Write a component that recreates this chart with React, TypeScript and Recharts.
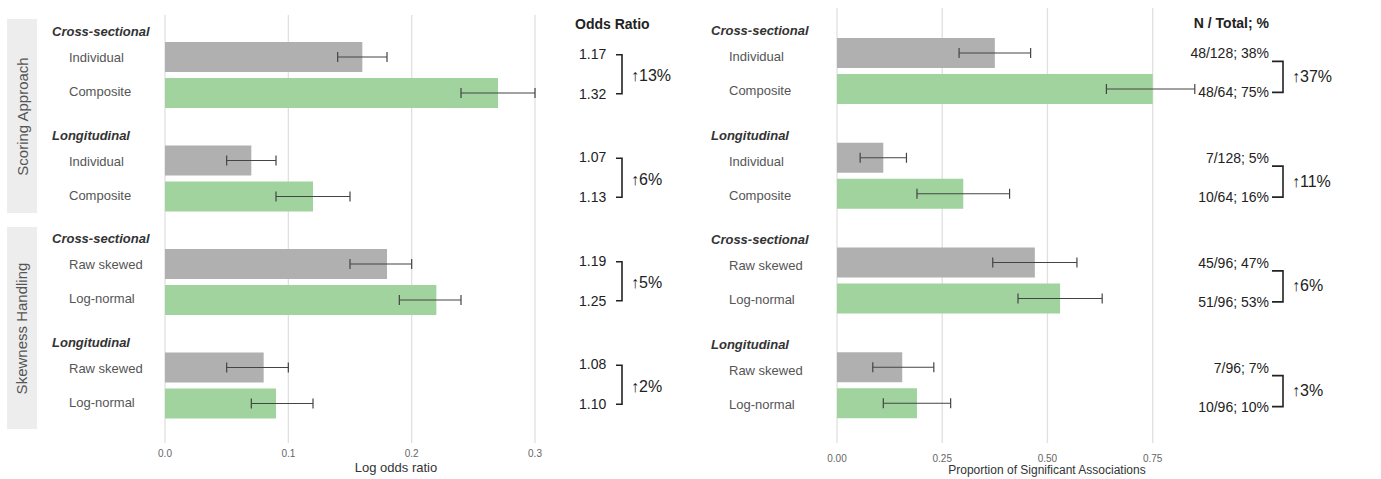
import { BarChart, Bar, XAxis, YAxis, CartesianGrid, ErrorBar } from 'recharts'

const SECTIONS = ['Cross-sectional', 'Longitudinal', 'Cross-sectional', 'Longitudinal']
const BASE_LABELS = ['Individual', 'Individual', 'Raw skewed', 'Raw skewed']
const ALT_LABELS = ['Composite', 'Composite', 'Log-normal', 'Log-normal']
const STRIPS = ['Scoring Approach', 'Skewness Handling']

// left panel: log odds ratio, 95% CI
const LOR_BASE = [0.16, 0.07, 0.18, 0.08]
const LOR_BASE_LO = [0.14, 0.05, 0.15, 0.05]
const LOR_BASE_HI = [0.18, 0.09, 0.2, 0.1]
const LOR_ALT = [0.27, 0.12, 0.22, 0.09]
const LOR_ALT_LO = [0.24, 0.09, 0.19, 0.07]
const LOR_ALT_HI = [0.3, 0.15, 0.24, 0.12]
const LOR_TICKS = [0, 0.1, 0.2, 0.3]
const OR_BASE = ['1.17', '1.07', '1.19', '1.08']
const OR_ALT = ['1.32', '1.13', '1.25', '1.10']
const OR_GAIN = ['13%', '6%', '5%', '2%']

// right panel: proportion of significant associations
const PROP_BASE = [0.375, 0.11, 0.47, 0.155]
const PROP_BASE_LO = [0.29, 0.055, 0.37, 0.085]
const PROP_BASE_HI = [0.46, 0.165, 0.57, 0.23]
const PROP_ALT = [0.75, 0.3, 0.53, 0.19]
const PROP_ALT_LO = [0.64, 0.19, 0.43, 0.11]
const PROP_ALT_HI = [0.85, 0.41, 0.63, 0.27]
const PROP_TICKS = [0, 0.25, 0.5, 0.75]
const N_BASE = ['48/128; 38%', '7/128; 5%', '45/96; 47%', '7/96; 7%']
const N_ALT = ['48/64; 75%', '10/64; 16%', '51/96; 53%', '10/96; 10%']
const N_GAIN = ['37%', '11%', '6%', '3%']

const GREY = '#b0b0b0'
const GREEN = '#a1d39e'
const FONT = '"Liberation Sans", Arial, Helvetica, sans-serif'

function buildRows(base: number[], baseLo: number[], baseHi: number[], alt: number[], altLo: number[], altHi: number[]) {
  return base.map((v, i) => ({
    id: String(i),
    base: v,
    baseErr: [v - baseLo[i], baseHi[i] - v],
    alt: alt[i],
    altErr: [alt[i] - altLo[i], altHi[i] - alt[i]],
  }))
}

const lorRows = buildRows(LOR_BASE, LOR_BASE_LO, LOR_BASE_HI, LOR_ALT, LOR_ALT_LO, LOR_ALT_HI)
const propRows = buildRows(PROP_BASE, PROP_BASE_LO, PROP_BASE_HI, PROP_ALT, PROP_ALT_LO, PROP_ALT_HI)

type LabelCfg = { headDx: number; subDx: number; headDy: number; subDy: [number, number] }

function labelTick(cfg: LabelCfg) {
  return (props: any) => {
    const { x, y, payload } = props
    const i = Number(payload.value)
    return (
      <g>
        <text x={x + cfg.headDx} y={y + cfg.headDy} dominantBaseline="central" fontSize={13} fontWeight="bold" fontStyle="italic" fill="#333">
          {SECTIONS[i]}
        </text>
        <text x={x + cfg.subDx} y={y + cfg.subDy[0]} dominantBaseline="central" fontSize={13} fill="#555">
          {BASE_LABELS[i]}
        </text>
        <text x={x + cfg.subDx} y={y + cfg.subDy[1]} dominantBaseline="central" fontSize={13} fill="#555">
          {ALT_LABELS[i]}
        </text>
      </g>
    )
  }
}

type GainCfg = {
  top: string[]; bottom: string[]; gain: string[]
  textDx: number; anchor: 'start' | 'end'; topDy: number; botDy: number
  brX0: number; brX1: number; brTop: number; gainDx: number; gainDy: number
}

function gainTick(cfg: GainCfg) {
  return (props: any) => {
    const { x, y, payload } = props
    const i = Number(payload.value)
    return (
      <g fill="#222">
        <text x={x + cfg.textDx} y={y + cfg.topDy} fontSize={14} dominantBaseline="central" textAnchor={cfg.anchor}>{cfg.top[i]}</text>
        <text x={x + cfg.textDx} y={y + cfg.botDy} fontSize={14} dominantBaseline="central" textAnchor={cfg.anchor}>{cfg.bottom[i]}</text>
        <path
          d={`M${x + cfg.brX0},${y + cfg.brTop} H${x + cfg.brX1} V${y + cfg.botDy} H${x + cfg.brX0}`}
          fill="none" stroke="#222" strokeWidth={1.6}
        />
        <text x={x + cfg.gainDx} y={y + cfg.gainDy} fontSize={16} dominantBaseline="central">{'\u2191' + cfg.gain[i]}</text>
      </g>
    )
  }
}

function Strip({ label, top, height }: { label: string; top: number; height: number }) {
  return (
    <div style={{
      position: 'absolute', left: 7, top, width: 30, height, background: '#ededed',
      display: 'flex', alignItems: 'center', justifyContent: 'center',
    }}>
      <span style={{ transform: 'rotate(-90deg)', whiteSpace: 'nowrap', fontSize: 15, color: '#555' }}>{label}</span>
    </div>
  )
}

export default function App() {
  const errStyle = { stroke: '#444', strokeWidth: 1.2 }
  return (
    <div style={{ position: 'absolute', left: 0, top: 0, width: 1381, height: 479, background: '#fff', fontFamily: FONT, overflow: 'hidden' }}>
      <Strip label={STRIPS[0]} top={19} height={194} />
      <Strip label={STRIPS[1]} top={227} height={202} />

      {/* left panel */}
      <div style={{ position: 'absolute', left: 40, top: 0 }}>
        <BarChart width={640} height={479} data={lorRows} layout="vertical"
          margin={{ top: 15, right: 0, bottom: 0, left: 0 }} barSize={30} barGap={6}>
          <CartesianGrid yAxisId="rows" horizontal={false} syncWithTicks stroke="#e0e0e0" strokeWidth={1.3} />
          <XAxis type="number" domain={[0, 0.3]} ticks={LOR_TICKS} tickFormatter={(v) => v.toFixed(1)}
            axisLine={false} tickLine={false} tickSize={0} tickMargin={7} height={36}
            tick={{ fontSize: 10, fill: '#666' }} />
          <YAxis yAxisId="rows" type="category" dataKey="id" width={125} interval={0}
            axisLine={false} tickLine={false} tickSize={0} tickMargin={0} padding={{ top: 8, bottom: 6 }}
            tick={labelTick({ headDx: -113, subDx: -96, headDy: -43, subDy: [-17, 17] })} />
          <YAxis yAxisId="gain" orientation="right" type="category" dataKey="id" width={145} interval={0}
            axisLine={false} tickLine={false} tickSize={0} tickMargin={0} padding={{ top: 8, bottom: 6 }}
            tick={gainTick({
              top: OR_BASE, bottom: OR_ALT, gain: OR_GAIN, textDx: 44, anchor: 'start',
              topDy: -21, botDy: 19, brX0: 81, brX1: 87, brTop: -20, gainDx: 96, gainDy: 1,
            })} />
          <Bar yAxisId="rows" dataKey="base" fill={GREY} isAnimationActive={false}>
            <ErrorBar dataKey="baseErr" direction="x" width={5} {...errStyle} />
          </Bar>
          <Bar yAxisId="rows" dataKey="alt" fill={GREEN} isAnimationActive={false}>
            <ErrorBar dataKey="altErr" direction="x" width={5} {...errStyle} />
          </Bar>
        </BarChart>
      </div>
      <div style={{ position: 'absolute', left: 575, top: 15, fontSize: 14, fontWeight: 'bold', color: '#222', lineHeight: '18px' }}>
        Odds Ratio
      </div>
      <div style={{ position: 'absolute', left: 296, width: 200, top: 460, textAlign: 'center', fontSize: 13, color: '#333', lineHeight: '16px' }}>
        Log odds ratio
      </div>

      {/* right panel */}
      <div style={{ position: 'absolute', left: 680, top: 0 }}>
        <BarChart width={701} height={479} data={propRows} layout="vertical"
          margin={{ top: 8, right: 0, bottom: 0, left: 0 }} barSize={30} barGap={6}>
          <CartesianGrid yAxisId="rows" horizontal={false} syncWithTicks stroke="#e0e0e0" strokeWidth={1.3} />
          <XAxis type="number" domain={[0, 0.86]} ticks={PROP_TICKS} tickFormatter={(v) => v.toFixed(2)}
            axisLine={false} tickLine={false} tickSize={0} tickMargin={12} height={36}
            tick={{ fontSize: 10, fill: '#666' }} />
          <YAxis yAxisId="rows" type="category" dataKey="id" width={157} interval={0}
            axisLine={false} tickLine={false} tickSize={0} tickMargin={0} padding={{ top: 11, bottom: 5 }}
            tick={labelTick({ headDx: -126, subDx: -108, headDy: -41, subDy: [-15, 19] })} />
          <YAxis yAxisId="gain" orientation="right" type="category" dataKey="id" width={182} interval={0}
            axisLine={false} tickLine={false} tickSize={0} tickMargin={0} padding={{ top: 11, bottom: 5 }}
            tick={gainTick({
              top: N_BASE, bottom: N_ALT, gain: N_GAIN, textDx: 70, anchor: 'end',
              topDy: -18, botDy: 21, brX0: 73, brX1: 84, brTop: -10, gainDx: 93, gainDy: 5,
            })} />
          <Bar yAxisId="rows" dataKey="base" fill={GREY} isAnimationActive={false}>
            <ErrorBar dataKey="baseErr" direction="x" width={5} {...errStyle} />
          </Bar>
          <Bar yAxisId="rows" dataKey="alt" fill={GREEN} isAnimationActive={false}>
            <ErrorBar dataKey="altErr" direction="x" width={5} {...errStyle} />
          </Bar>
        </BarChart>
      </div>
      <div style={{ position: 'absolute', left: 1169, width: 100, top: 14, textAlign: 'right', fontSize: 14, fontWeight: 'bold', color: '#222', lineHeight: '18px' }}>
        N / Total; %
      </div>
      <div style={{ position: 'absolute', left: 897, width: 300, top: 463, textAlign: 'center', fontSize: 12, color: '#333', lineHeight: '15px' }}>
        Proportion of Significant Associations
      </div>
    </div>
  )
}
